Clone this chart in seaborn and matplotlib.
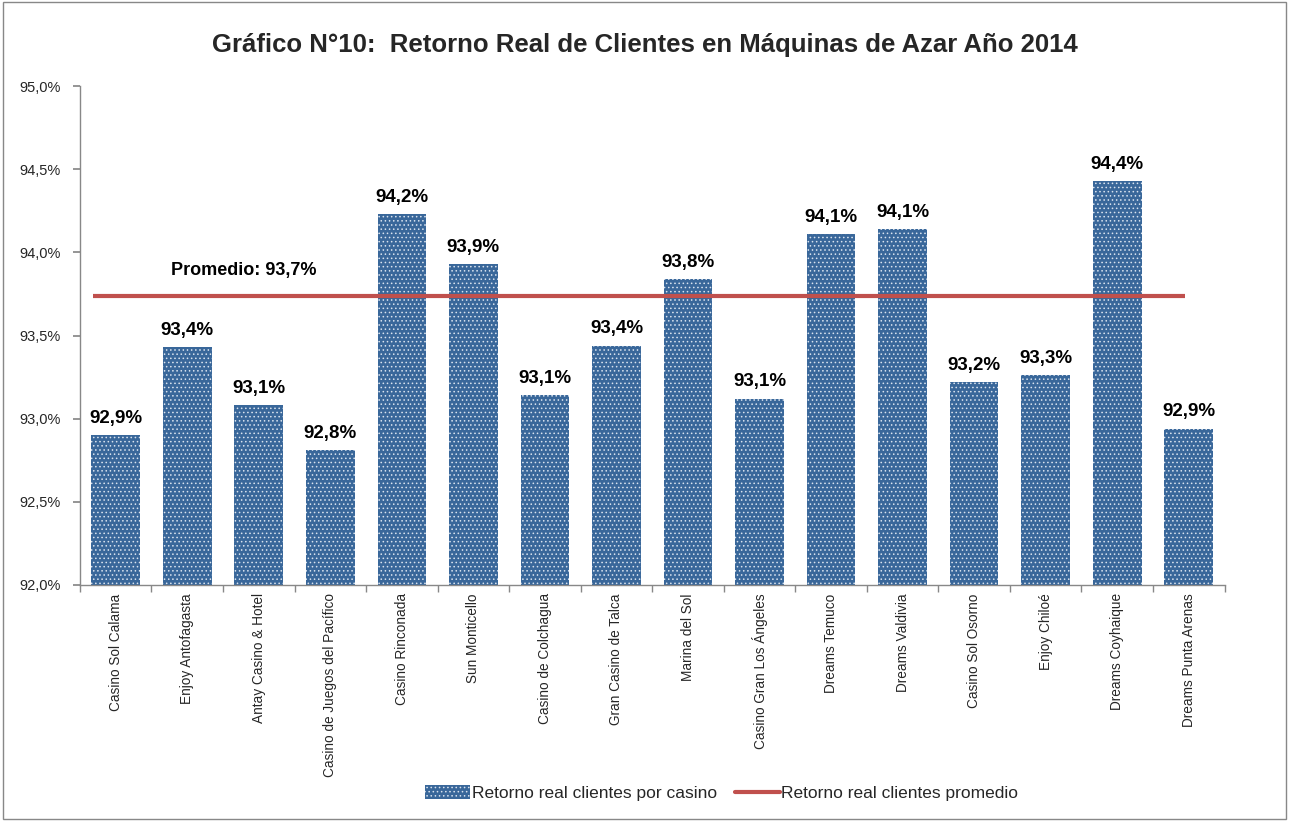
import matplotlib
matplotlib.use("Agg")
import matplotlib.pyplot as plt
import seaborn as sns
import pandas as pd
import numpy as np
from matplotlib.patches import Patch, Rectangle
from matplotlib.lines import Line2D
from matplotlib.ticker import FuncFormatter, MultipleLocator, FixedLocator

casinos = ["Casino Sol Calama", "Enjoy Antofagasta", "Antay Casino & Hotel",
           "Casino de Juegos del Pacífico", "Casino Rinconada", "Sun Monticello",
           "Casino de Colchagua", "Gran Casino de Talca", "Marina del Sol",
           "Casino Gran Los Ángeles", "Dreams Temuco", "Dreams Valdivia",
           "Casino Sol Osorno", "Enjoy Chiloé", "Dreams Coyhaique", "Dreams Punta Arenas"]
retorno = [92.90, 93.43, 93.08, 92.81, 94.23, 93.93, 93.14, 93.44, 93.84,
           93.12, 94.11, 94.14, 93.22, 93.26, 94.43, 92.94]
promedio = 93.74

title = "Gráfico N°10:  Retorno Real de Clientes en Máquinas de Azar Año 2014"
legend_bar = "Retorno real clientes por casino"
legend_line = "Retorno real clientes promedio"

sns.set_theme(style="white")
plt.rcParams['font.family'] = ['Liberation Sans', 'DejaVu Sans']
plt.rcParams['hatch.linewidth'] = 0.6

df = pd.DataFrame({"casino": casinos, "retorno": retorno})

fig = plt.figure(figsize=(12.89, 8.21), dpi=100)
ax = fig.add_axes([0.062, 0.2875, 0.888, 0.6075])

bar_face = "#39679a"
sns.barplot(data=df, x="casino", y="retorno", ax=ax, color=bar_face,
            width=0.68, saturation=1)
for p in ax.patches:
    p.set_facecolor(bar_face)
    p.set_edgecolor("#d8e2ee")
    p.set_hatch("....")
    p.set_linewidth(0)

ax.set_ylim(92.0, 95.0)
ax.set_xlim(-0.5, len(casinos) - 0.5)
ax.yaxis.set_major_locator(MultipleLocator(0.5))
ax.yaxis.set_major_formatter(FuncFormatter(lambda v, p: f"{v:.1f}%".replace(".", ",")))

# average line
ax.hlines(promedio, -0.32, len(casinos) - 1.05, color="#c0504d", lw=3, zorder=3)
ax.text(0.77, promedio + 0.1, f"Promedio: {promedio:.1f}%".replace(".", ","),
        fontsize=13, fontweight="bold", ha="left", va="bottom", color="black")

# bar labels
for i, v in enumerate(retorno):
    ax.text(i, v + 0.05, f"{v:.1f}%".replace(".", ","), ha="center", va="bottom",
            fontsize=13.5, fontweight="bold", color="black")

ax.set_xlabel("")
ax.set_ylabel("")
ax.tick_params(axis="x", which="major", length=0, pad=6, labelsize=9.8, rotation=90)
ax.xaxis.set_minor_locator(FixedLocator(np.arange(-0.5, len(casinos), 1.0)))
ax.tick_params(axis="x", which="minor", length=5, color="#888888", direction="out", bottom=True)
ax.tick_params(axis="y", which="major", length=5, color="#888888", direction="out",
               labelsize=10.5, left=True, pad=9)
for lab in ax.get_xticklabels():
    lab.set_verticalalignment("top")

for s in ["top", "right"]:
    ax.spines[s].set_visible(False)
for s in ["left", "bottom"]:
    ax.spines[s].set_color("#888888")
    ax.spines[s].set_linewidth(1)

fig.text(0.5, 0.945, title, ha="center", va="center", fontsize=18.5, fontweight="bold")

handles = [Patch(facecolor=bar_face, edgecolor="#d8e2ee", hatch="....", linewidth=0),
           Line2D([0], [0], color="#c0504d", lw=3)]
fig.legend(handles, [legend_bar, legend_line], loc="center", bbox_to_anchor=(0.56, 0.034),
           ncol=2, frameon=False, fontsize=12.5, handlelength=2.6, handleheight=0.9,
           columnspacing=1.0, handletextpad=0.1)

fig.add_artist(Rectangle((0.002, 0.002), 0.996, 0.996, transform=fig.transFigure,
                         fill=False, edgecolor="#888888", lw=1))

fig.savefig("out.png", dpi=100)
